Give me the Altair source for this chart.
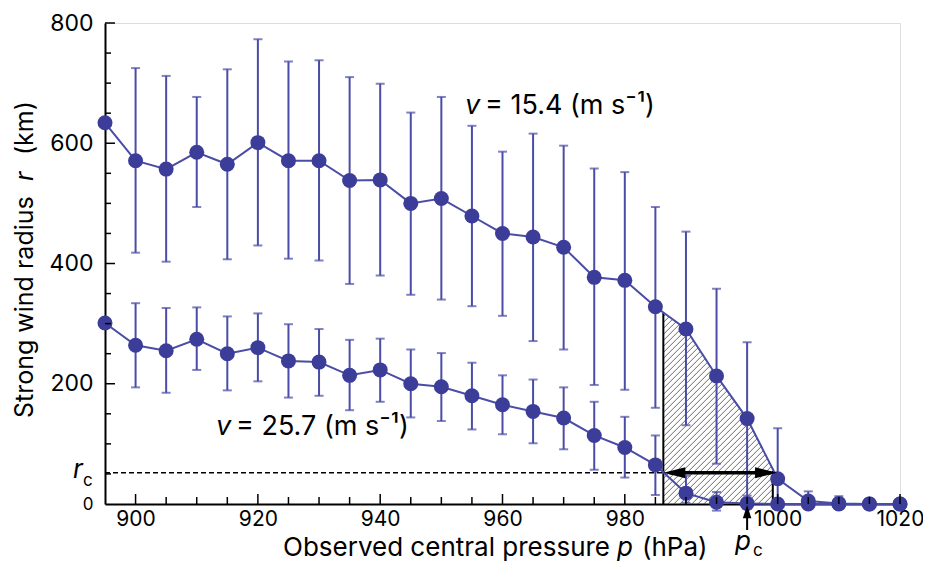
import altair as alt
import pandas as pd
import numpy as np

# ---------------- data ----------------
pressure = [895, 900, 905, 910, 915, 920, 925, 930, 935, 940, 945, 950, 955, 960,
            965, 970, 975, 980, 985, 990, 995, 1000, 1005, 1010, 1015, 1020, 1025]
r_154 = [634, 571, 557, 585, 565, 601, 571, 571, 538, 539, 500, 508, 479, 450,
         444, 427, 377, 372, 328, 291, 213, 142, 42, 5, 1, 0, 0]
r_154_hi = [None, 725, 712, 677, 723, 773, 736, 738, 710, 699, 651, 677, 629, 586,
            616, 596, 558, 552, 494, 453, 358, 269, 126, 21, 13, None, None]
r_154_lo = [None, 418, 403, 494, 407, 430, 408, 405, 366, 380, 348, 340, 329, 313,
            271, 257, 198, 190, 160, 131, 67, 0, 0, -8, -8, None, None]
r_257 = [301, 264, 255, 274, 250, 260, 238, 236, 214, 223, 200, 195, 180, 165,
         154, 143, 114, 94, 65, 18, 3, 1, 0, 0, 0, 0, 0]
r_257_hi = [None, 334, 326, 327, 312, 317, 299, 291, 273, 275, 257, 251, 235, 214,
            207, 194, 170, 145, 114, 47, 20, 14, None, None, None, None, None]
r_257_lo = [None, 194, 185, 223, 189, 204, 177, 180, 156, 170, 144, 138, 124, 116,
            101, 91, 57, 44, 15, 2, -11, -8, None, None, None, None, None]

r_c = 52            # critical radius (dashed line)
p_left = 986.3      # left edge of hatched region
p_right = 1004.2    # right edge of hatched region
p_arrow_right = 1004.9
p_c = 1000

x_label_pos = [900, 920, 940, 960, 980, 1005, 1025]
x_label_text = ["900", "920", "940", "960", "980", "1000", "1020"]
x_minor = [v for v in range(900, 1026, 5) if v not in x_label_pos]
y_label_pos = [0, 200, 400, 600, 800]
y_major = [200, 400, 600, 800]
y_minor = [v for v in range(50, 800, 50) if v not in y_major]

txt_upper = ["v", "= 15.4 (m s\u207b\u00b9)"]
txt_lower = ["v", "= 25.7 (m s\u207b\u00b9)"]
txt_xtitle = ["Observed central pressure", "p", "(hPa)"]
txt_ytitle = ["Strong wind radius", "r", "(km)"]
txt_pc = ["p", "c"]
txt_rc = ["r", "c"]

# ---------------- layout ----------------
LEFT, TOP = 105, 23          # page position of plot origin
W, H = 795, 481
FONT = "Inter"
PT = "#3b3d99"
LN = "#4a4ca6"

x_dom = [895, 1025]
y_dom = [0, 800]

label_expr = "".join(
    f"datum.value == {p} ? '{t}' : " for p, t in zip(x_label_pos, x_label_text)
) + "datum.label"

xaxis = alt.Axis(values=x_label_pos, labelExpr=label_expr, ticks=False, grid=False,
                 title=None, domainColor="black", domainWidth=2, labelFont=FONT,
                 labelFontSize=21, labelColor="black", labelPadding=4,
                 labelFlush=False, labelOverlap=False)
yaxis = alt.Axis(values=y_label_pos, ticks=False, grid=False, title=None,
                 domainColor="black", domainWidth=2, labelFont=FONT,
                 labelFontSize={"condition": {"test": "datum.value === 0", "value": 17},
                                "value": 23},
                 labelColor="black", labelPadding=12, labelOverlap=False)
xs = alt.Scale(domain=x_dom, nice=False, zero=False)
ys = alt.Scale(domain=y_dom, nice=False, zero=False)


def X(f):
    return alt.X(f, type="quantitative", scale=xs, axis=xaxis)


def Y(f):
    return alt.Y(f, type="quantitative", scale=ys, axis=yaxis)


df = pd.DataFrame({"p": pressure, "u": r_154, "uhi": r_154_hi, "ulo": r_154_lo,
                   "l": r_257, "lhi": r_257_hi, "llo": r_257_lo})

layers = []

# ---------------- hatched region ----------------
sx, sy = W / (x_dom[1] - x_dom[0]), H / (y_dom[1] - y_dom[0])
top_l = float(np.interp(p_left, pressure, r_154))
top_r = float(np.interp(p_right, pressure, r_154))
poly = [(p_left, 0), (p_left, top_l)]
poly += [(p, r) for p, r in zip(pressure, r_154) if p_left < p < p_right]
poly += [(p_right, top_r), (p_right, 0)]
P = [((p - x_dom[0]) * sx, r * sy) for p, r in poly]
cs = [py - px for px, py in P]
segs = []
spacing = 6.0
c = min(cs) + spacing / 2
while c < max(cs):
    ts = []
    for i in range(len(P)):
        (ax, ay), (bx, by) = P[i], P[(i + 1) % len(P)]
        den = (by - ay) - (bx - ax)
        if abs(den) < 1e-9:
            continue
        s = (c - (ay - ax)) / den
        if 0 <= s < 1:
            ts.append(ax + s * (bx - ax))
    ts.sort()
    for k in range(0, len(ts) - 1, 2):
        t1, t2 = ts[k], ts[k + 1]
        segs.append({"x": x_dom[0] + t1 / sx, "y": (t1 + c) / sy,
                     "x2": x_dom[0] + t2 / sx, "y2": (t2 + c) / sy})
    c += spacing
hatch = alt.Chart(pd.DataFrame(segs)).mark_rule(color="#444444", strokeWidth=0.8).encode(
    x=X("x"), y=Y("y"), x2="x2", y2="y2")
layers.append(hatch)

edges = pd.DataFrame([{"x": p_left, "y": 0, "y2": top_l},
                      {"x": p_right, "y": 0, "y2": 55}])
layers.append(alt.Chart(edges).mark_rule(color="black", strokeWidth=2).encode(
    x=X("x"), y=Y("y"), y2="y2"))

# dashed r_c line
layers.append(alt.Chart(pd.DataFrame([{"x": x_dom[0], "x2": p_left, "y": r_c}]))
              .mark_rule(color="black", strokeWidth=1.5, strokeDash=[5, 3])
              .encode(x=X("x"), x2="x2", y=Y("y")))

# ---------------- error bars, lines, points ----------------
for mean, hi, lo in [("l", "lhi", "llo"), ("u", "uhi", "ulo")]:
    sub = df.dropna(subset=[hi, lo])
    base = alt.Chart(sub)
    layers.append(base.mark_rule(color=LN, strokeWidth=2).encode(x=X("p"), y=Y(lo), y2=hi))
    layers.append(base.mark_tick(color=LN, orient="horizontal", size=9, thickness=2)
                  .encode(x=X("p"), y=Y(hi)))
    layers.append(base.mark_tick(color=LN, orient="horizontal", size=9, thickness=2)
                  .encode(x=X("p"), y=Y(lo)))
for mean in ["l", "u"]:
    layers.append(alt.Chart(df).mark_line(color=LN, strokeWidth=2).encode(x=X("p"), y=Y(mean)))
for mean in ["l", "u"]:
    layers.append(alt.Chart(df).mark_circle(color=PT, size=225, opacity=1)
                  .encode(x=X("p"), y=Y(mean)))

# ---------------- double arrow ----------------
layers.append(alt.Chart(pd.DataFrame([{"x": p_left + 1, "x2": p_arrow_right - 1, "y": r_c}]))
              .mark_rule(color="black", strokeWidth=3.5).encode(x=X("x"), x2="x2", y=Y("y")))
layers.append(alt.Chart(pd.DataFrame([{"x": p_left, "y": r_c}]))
              .mark_point(shape="M 0 0 L 2 -0.5 L 2 0.5 Z", size=484, filled=True,
                          color="black", opacity=1).encode(x=X("x"), y=Y("y")))
layers.append(alt.Chart(pd.DataFrame([{"x": p_arrow_right, "y": r_c}]))
              .mark_point(shape="M 0 0 L -2 -0.5 L -2 0.5 Z", size=484, filled=True,
                          color="black", opacity=1).encode(x=X("x"), y=Y("y")))

# p_c arrow below the axis
layers.append(alt.Chart(pd.DataFrame([{"x": p_c}]))
              .mark_rule(color="black", strokeWidth=2)
              .encode(x=X("x"), y=alt.value(530 - TOP), y2=alt.value(515 - TOP)))
layers.append(alt.Chart(pd.DataFrame([{"x": p_c}]))
              .mark_point(shape="M 0 0 L -0.5 1.55 L 0.5 1.55 Z", size=289, filled=True,
                          color="black", opacity=1)
              .encode(x=X("x"), y=alt.value(H + 1)))

# ---------------- inward ticks ----------------
layers.append(alt.Chart(pd.DataFrame({"x": x_label_pos})).mark_rule(color="black", strokeWidth=1.5)
              .encode(x=X("x"), y=alt.value(H), y2=alt.value(H - 10)))
layers.append(alt.Chart(pd.DataFrame({"x": x_minor})).mark_rule(color="black", strokeWidth=1.5)
              .encode(x=X("x"), y=alt.value(H), y2=alt.value(H - 7)))
layers.append(alt.Chart(pd.DataFrame({"y": y_major})).mark_rule(color="black", strokeWidth=1.5)
              .encode(y=Y("y"), x=alt.value(0), x2=alt.value(10)))
layers.append(alt.Chart(pd.DataFrame({"y": y_minor})).mark_rule(color="black", strokeWidth=1.5)
              .encode(y=Y("y"), x=alt.value(0), x2=alt.value(6)))


# ---------------- texts ----------------
def text(t, xp, yp, size, italic=False, angle=0, align="left"):
    return alt.Chart(alt.Data(values=[{"t": t}])).mark_text(
        font=FONT, fontSize=size, fontStyle="italic" if italic else "normal",
        color="black", align=align, baseline="alphabetic", angle=angle
    ).encode(text="t:N", x=alt.value(xp - LEFT), y=alt.value(yp - TOP))


layers += [
    text(txt_upper[0], 465, 114, 27, italic=True),
    text(txt_upper[1], 485, 114, 27),
    text(txt_lower[0], 216, 435, 27, italic=True),
    text(txt_lower[1], 236, 435, 27),
    text(txt_xtitle[0], 283, 556, 26),
    text(txt_xtitle[1], 617, 556, 26, italic=True),
    text(txt_xtitle[2], 642, 556, 26),
    text(txt_ytitle[0], 33, 418, 25, angle=270),
    text(txt_ytitle[1], 33, 181, 25, italic=True, angle=270),
    text(txt_ytitle[2], 33, 155, 25, angle=270),
    text(txt_pc[0], 735, 550, 26, italic=True),
    text(txt_pc[1], 753, 556, 17),
    text(txt_rc[0], 73, 478, 26, italic=True),
    text(txt_rc[1], 83, 486, 17),
]

chart = alt.layer(*layers).properties(
    width=W, height=H,
    autosize=alt.AutoSizeParams(type="none"),
    padding={"left": LEFT - 8, "top": TOP - 8, "right": 23, "bottom": 58},
).configure_view(strokeWidth=0).configure(background="white")

chart.save("out.html", embed_options={"renderer": "svg", "actions": False})
